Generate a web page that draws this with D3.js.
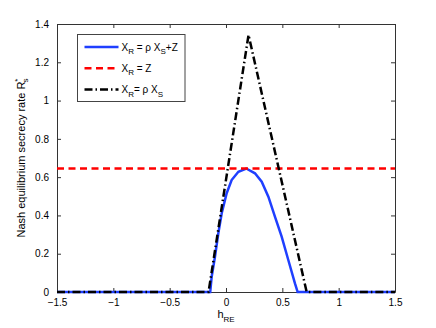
<!DOCTYPE html>
<html>
<head>
<meta charset="utf-8">
<script src="https://cdn.jsdelivr.net/npm/d3@7"></script>
<style>
  body { margin: 0; background: #fff; }
  text { font-family: "Liberation Sans", Arial, sans-serif; }
</style>
</head>
<body>
<div id="chart"></div>
<script>
// data
const hBlue = [-1.5, -0.14, -0.127, -0.098, -0.068, -0.038, 0.006, 0.05, 0.11, 0.18, 0.257, 0.317, 0.376, 0.435, 0.494, 0.553, 0.612, 0.636, 1.5];
const rBlue = [0, 0, 0.08, 0.184, 0.307, 0.411, 0.516, 0.585, 0.628, 0.645, 0.62, 0.576, 0.498, 0.393, 0.289, 0.167, 0.045, 0, 0];
const hRed = [-1.5, 1.5];
const rRed = [0.645, 0.645];
const hBlack = [-1.5, -0.155, 0.2, 0.716, 1.5];
const rBlack = [0, 0, 1.343, 0, 0];
const xTicks = [-1.5, -1, -0.5, 0, 0.5, 1, 1.5];
const yTicks = [0, 0.2, 0.4, 0.6, 0.8, 1, 1.2, 1.4];

const width = 436, height = 328;
const margin = { top: 24, right: 41, bottom: 36, left: 57 };
const w = width - margin.left - margin.right;
const h = height - margin.top - margin.bottom;

const svg = d3.select("#chart").append("svg")
    .attr("width", width)
    .attr("height", height);

const g = svg.append("g")
    .attr("transform", `translate(${margin.left},${margin.top})`);

const x = d3.scaleLinear().domain([-1.5, 1.5]).range([0, w]);
const y = d3.scaleLinear().domain([0, 1.4]).range([h, 0]);

const fmt = d3.format("~g");
const axisColor = "#333";

// axes with inward ticks on all four sides
const xb = g.append("g").attr("transform", `translate(0,${h})`)
    .call(d3.axisBottom(x).tickValues(xTicks).tickSizeInner(-4).tickSizeOuter(0).tickPadding(7).tickFormat(fmt));
const xt = g.append("g")
    .call(d3.axisTop(x).tickValues(xTicks).tickSizeInner(-4).tickSizeOuter(0).tickFormat(""));
const yl = g.append("g")
    .call(d3.axisLeft(y).tickValues(yTicks).tickSizeInner(-4).tickSizeOuter(0).tickPadding(8).tickFormat(fmt));
const yr = g.append("g").attr("transform", `translate(${w},0)`)
    .call(d3.axisRight(y).tickValues(yTicks).tickSizeInner(-4).tickSizeOuter(0).tickFormat(""));

[xb, xt, yl, yr].forEach(a => {
    a.select(".domain").attr("stroke", axisColor);
    a.selectAll(".tick line").attr("stroke", axisColor);
    a.selectAll(".tick text").attr("fill", "#000").style("font-size", "10px");
});

const line = d3.line().x(d => x(d[0])).y(d => y(d[1]));

const series = [
    { h: hBlue, r: rBlue, color: "#1f3fff", dash: null },
    { h: hRed, r: rRed, color: "#ff0000", dash: "7,4.5" },
    { h: hBlack, r: rBlack, color: "#000", dash: "8,3,1.5,3" }
];

series.forEach(s => {
    g.append("path")
        .datum(d3.zip(s.h, s.r))
        .attr("fill", "none")
        .attr("stroke", s.color)
        .attr("stroke-width", 2.5)
        .attr("stroke-dasharray", s.dash)
        .attr("d", line);
});

// legend
const lg = svg.append("g").attr("transform", "translate(77.5,34.5)");
lg.append("rect")
    .attr("width", 107.5).attr("height", 67)
    .attr("fill", "#fff").attr("stroke", "#444").attr("stroke-width", 1);

const legendRows = [
    { parts: [["X", 0], ["R", 1], [" = ρ X", 0], ["S", 1], ["+Z", 0]] },
    { parts: [["X", 0], ["R", 1], [" = Z", 0]] },
    { parts: [["X", 0], ["R", 1], ["= ρ X", 0], ["S", 1]] }
];

legendRows.forEach((row, i) => {
    const yy = 12.5 + i * 21.3;
    const s = series[i];
    lg.append("line")
        .attr("x1", 7).attr("x2", 41).attr("y1", yy).attr("y2", yy)
        .attr("stroke", s.color).attr("stroke-width", 2.5)
        .attr("stroke-dasharray", s.dash);
    const t = lg.append("text").attr("x", 44).attr("y", yy + 3.5).style("font-size", "10px");
    let sub = false;
    row.parts.forEach(p => {
        const ts = t.append("tspan").text(p[0]);
        if (p[1] && !sub) { ts.attr("dy", 3.5).style("font-size", "8px"); sub = true; }
        else if (!p[1] && sub) { ts.attr("dy", -3.5); sub = false; }
    });
});

// x label
const xlab = svg.append("text")
    .attr("x", margin.left + x(0)).attr("y", 318)
    .attr("text-anchor", "middle").style("font-size", "11px");
xlab.append("tspan").text("h");
xlab.append("tspan").text("RE").attr("dy", 3.5).style("font-size", "8px");

// y label
const ylab = svg.append("text")
    .attr("transform", `translate(25,${margin.top + h / 2}) rotate(-90)`)
    .attr("text-anchor", "middle").style("font-size", "11px");
ylab.append("tspan").text("Nash equilibrium secrecy rate R");
ylab.append("tspan").text("*").attr("dy", -5).style("font-size", "8px");
ylab.append("tspan").text("s").attr("dx", -4).attr("dy", 8).style("font-size", "8px");
</script>
</body>
</html>
